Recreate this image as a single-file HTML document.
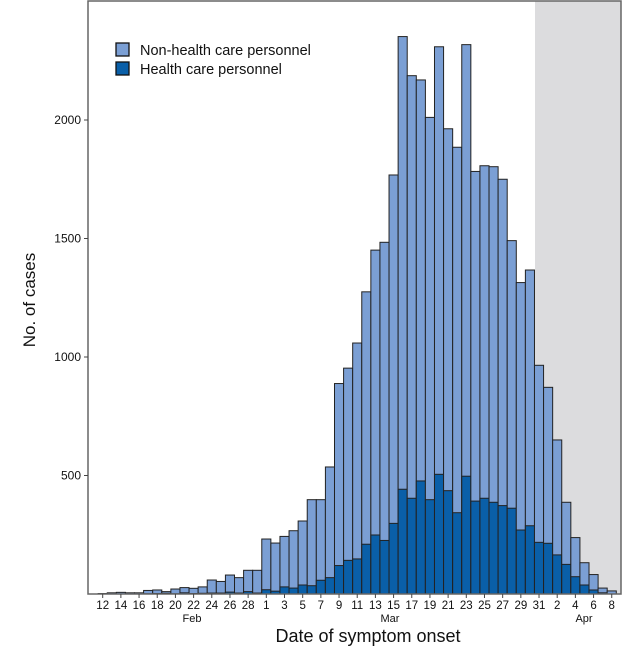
<!DOCTYPE html>
<html><head><meta charset="utf-8"><style>
html,body{margin:0;padding:0;background:#fff;}
svg{display:block;font-family:"Liberation Sans",sans-serif;}
</style></head><body>
<svg id="chart" width="640" height="659" viewBox="0 0 640 659">
<rect x="535" y="1" width="86" height="593" fill="#dcdcde"/>
<g id="bars"></g>
<rect x="88" y="1" width="533" height="593" fill="none" stroke="#666" stroke-width="1.5"/>
<g id="yaxis"></g>
<g id="xaxis"></g>
<text x="35" y="300" font-size="17" text-anchor="middle" transform="rotate(-90 35 300)" fill="#111">No. of cases</text>
<text x="368" y="642" font-size="18" text-anchor="middle" fill="#111">Date of symptom onset</text>
<text x="192" y="622" font-size="11" text-anchor="middle" fill="#111">Feb</text>
<text x="390" y="622" font-size="11" text-anchor="middle" fill="#111">Mar</text>
<text x="584" y="622" font-size="11" text-anchor="middle" fill="#111">Apr</text>
<g>
<rect x="116" y="43" width="13" height="13" fill="#7b9fd4" stroke="#111" stroke-width="1.3"/>
<text x="140" y="55" font-size="14.5" fill="#111">Non-health care personnel</text>
<rect x="116" y="62" width="13" height="13" fill="#0a5fa8" stroke="#111" stroke-width="1.3"/>
<text x="140" y="74" font-size="14.5" fill="#111">Health care personnel</text>
</g>
</svg>
<script>
// Days from Feb 12 to Apr 8, 2020
const totalCases = [2,5,7,5,5,15,17,10,21,27,24,30,59,53,80,69,100,100,
  232,215,243,267,308,398,398,536,888,953,1059,1275,1451,1484,1768,2352,2187,2169,2011,2309,1963,1885,2318,1783,1807,1803,1750,1491,1314,1367,
  965,872,650,387,238,132,82,25,13];
const hcpCases = [0,0,0,0,0,1,2,3,1,5,2,3,4,4,8,4,10,4,
  18,12,30,25,38,35,58,69,120,142,148,210,249,226,298,442,404,477,398,505,436,343,497,392,404,387,373,362,270,288,
  218,214,165,125,73,38,17,5,0];
const yTicks = [500,1000,1500,2000];
const xTickLabels = ["12","14","16","18","20","22","24","26","28","1","3","5","7","9","11","13","15","17","19","21","23","25","27","29","31","2","4","6","8"];
const xTickIndex = [0,2,4,6,8,10,12,14,16,18,20,22,24,26,28,30,32,34,36,38,40,42,44,46,48,50,52,54,56];

const NS = "http://www.w3.org/2000/svg";
const y0 = 594, pxPerCase = 0.237;
const x0 = 102.7, dayW = 9.09;
function yScale(v){ return y0 - v*pxPerCase; }
function xScale(i){ return x0 + i*dayW; }
function mk(tag, attrs, parent){ const e=document.createElementNS(NS,tag); for(const k in attrs) e.setAttribute(k,attrs[k]); parent.appendChild(e); return e; }

const bars = document.getElementById('bars');
totalCases.forEach((t,i)=>{
  const x = xScale(i) - dayW/2;
  const r1 = mk('rect',{x:x,y:yScale(t),width:dayW,height:y0-yScale(t),fill:'#7b9fd4',stroke:'#222','stroke-width':1},bars);
  
  
  const h = hcpCases[i];
  if(h>0){
    const r2 = mk('rect',{x:x,y:yScale(h),width:dayW,height:y0-yScale(h),fill:'#0a5fa8',stroke:'#222','stroke-width':1},bars);
    
    
  }
});

const ya = document.getElementById('yaxis');
yTicks.forEach(v=>{
  const y = yScale(v);
  const l = mk('line',{x1:84,x2:88,y1:y,y2:y,stroke:'#444','stroke-width':1},ya);
  
  
  const t = mk('text',{x:81,y:y+4,'font-size':12,'text-anchor':'end',fill:'#111'},ya);
  t.textContent = v;
  
  
});

const xa = document.getElementById('xaxis');
xTickLabels.forEach((lab,k)=>{
  const x = xScale(xTickIndex[k]);
  const l = mk('line',{x1:x,x2:x,y1:594,y2:598,stroke:'#444','stroke-width':1},xa);
  
  
  const t = mk('text',{x:x,y:609,'font-size':11.5,'text-anchor':'middle',fill:'#111'},xa);
  t.textContent = lab;
  
  
});
</script>
</body></html>
